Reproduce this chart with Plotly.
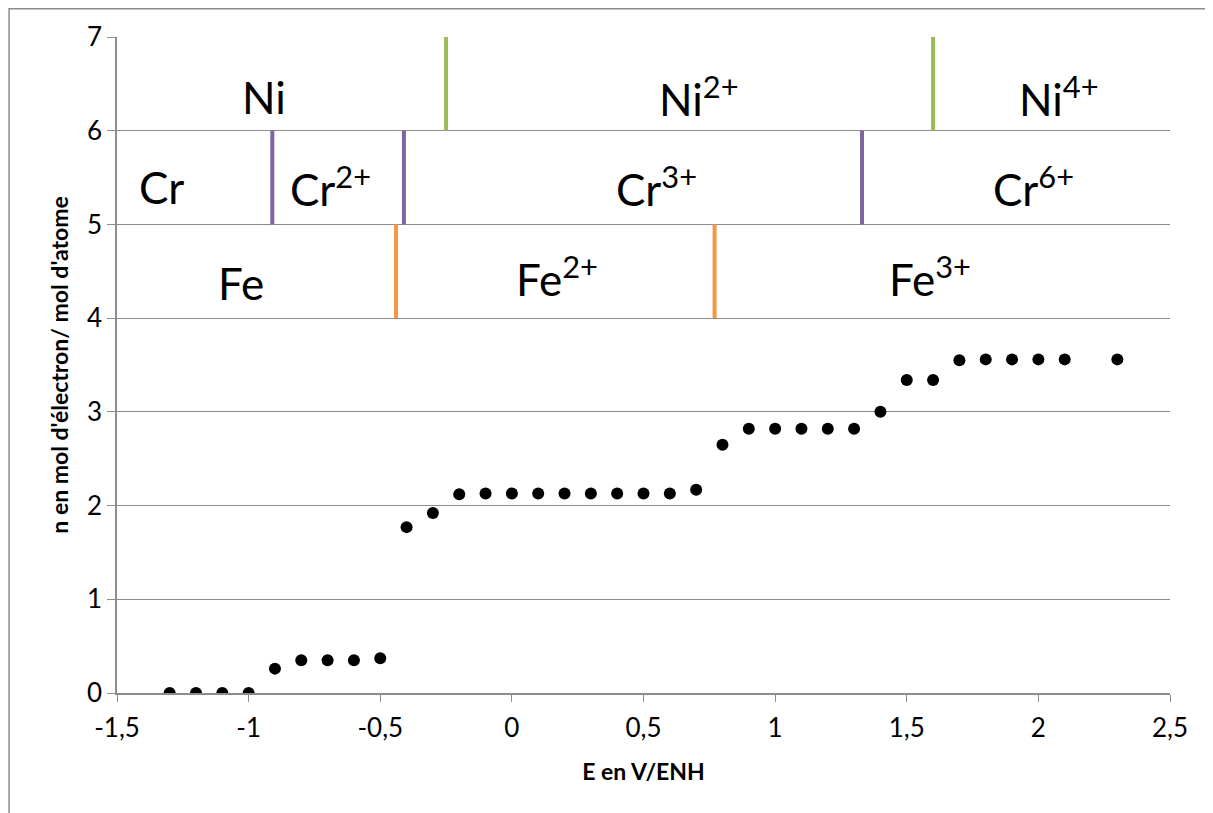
import plotly.graph_objects as go

# Data
E = [-1.3, -1.2, -1.1, -1.0, -0.9, -0.8, -0.7, -0.6, -0.5,
     -0.4, -0.3, -0.2, -0.1, 0.0, 0.1, 0.2, 0.3, 0.4, 0.5, 0.6,
     0.7, 0.8, 0.9, 1.0, 1.1, 1.2, 1.3, 1.4, 1.5, 1.6,
     1.7, 1.8, 1.9, 2.0, 2.1, 2.3]
n = [0.0, 0.0, 0.0, 0.0, 0.26, 0.35, 0.35, 0.35, 0.37,
     1.77, 1.92, 2.12, 2.13, 2.13, 2.13, 2.13, 2.13, 2.13, 2.13, 2.13,
     2.17, 2.65, 2.82, 2.82, 2.82, 2.82, 2.82, 3.0, 3.34, 3.34,
     3.55, 3.56, 3.56, 3.56, 3.56, 3.56]

# Boundaries between oxidation domains
ni_bounds = [-0.25, 1.6]
cr_bounds = [-0.91, -0.41, 1.33]
fe_bounds = [-0.44, 0.77]

labels = ["Ni", "Ni<sup>2+</sup>", "Ni<sup>4+</sup>",
          "Cr", "Cr<sup>2+</sup>", "Cr<sup>3+</sup>", "Cr<sup>6+</sup>",
          "Fe", "Fe<sup>2+</sup>", "Fe<sup>3+</sup>"]
label_x = [-0.94, 0.71, 2.08, -1.33, -0.69, 0.55, 1.98, -1.03, 0.17, 1.59]
label_y = [6.36, 6.36, 6.36, 5.4, 5.4, 5.4, 5.4, 4.38, 4.44, 4.44]

x_ticks = [-1.5, -1.0, -0.5, 0.0, 0.5, 1.0, 1.5, 2.0, 2.5]
x_ticktext = ["-1,5", "-1", "-0,5", "0", "0,5", "1", "1,5", "2", "2,5"]
y_ticks = [0, 1, 2, 3, 4, 5, 6, 7]

FONT = "Lato, 'Liberation Sans', sans-serif"
GRID = "#8c8c8c"

fig = go.Figure()

def add_bounds(xs, y0, y1, color):
    for xv in xs:
        fig.add_trace(go.Scatter(x=[xv, xv], y=[y0, y1], mode="lines",
                                 line=dict(color=color, width=4),
                                 hoverinfo="skip", showlegend=False))

add_bounds(ni_bounds, 6, 7, "#9bbb59")
add_bounds(cr_bounds, 5, 6, "#8064a2")
add_bounds(fe_bounds, 4, 5, "#f79646")

fig.add_trace(go.Scatter(x=E, y=n, mode="markers",
                         marker=dict(color="black", size=12),
                         showlegend=False))

for t, xv, yv in zip(labels, label_x, label_y):
    fig.add_annotation(x=xv, y=yv, text=t, showarrow=False,
                       xanchor="center", yanchor="middle",
                       font=dict(family=FONT, size=44, color="black"))

# outer frame (only left and top edges fall inside the picture)
fig.add_shape(type="rect", xref="paper", yref="paper",
              x0=-0.1025, x1=1.06, y0=-0.22, y1=1.043,
              line=dict(color="#8c8c8c", width=1.5), layer="below")

fig.update_layout(
    width=1205, height=805,
    margin=dict(l=109, r=43, t=29, b=120),
    paper_bgcolor="white", plot_bgcolor="white",
    font=dict(family=FONT, color="black"),
    showlegend=False,
)
fig.update_xaxes(range=[-1.5, 2.5], tickvals=x_ticks, ticktext=x_ticktext,
                 showgrid=False, zeroline=False, showline=True,
                 linecolor=GRID, linewidth=1.5, ticks="outside",
                 tickcolor=GRID, ticklen=7, tickfont=dict(size=26),
                 ticklabelstandoff=4,
                 title=dict(text="<b>E en V/ENH</b>", font=dict(size=23),
                            standoff=22))
fig.update_yaxes(range=[0, 7], tickvals=y_ticks, showgrid=True,
                 gridcolor=GRID, gridwidth=1.3, zeroline=False,
                 showline=True, linecolor=GRID, linewidth=1.5,
                 ticks="outside", tickcolor=GRID, ticklen=8,
                 tickfont=dict(size=26),
                 title=dict(text="<b>n en mol d'électron/ mol d'atome</b>",
                            font=dict(size=23), standoff=12))

fig.write_html("out.html")
